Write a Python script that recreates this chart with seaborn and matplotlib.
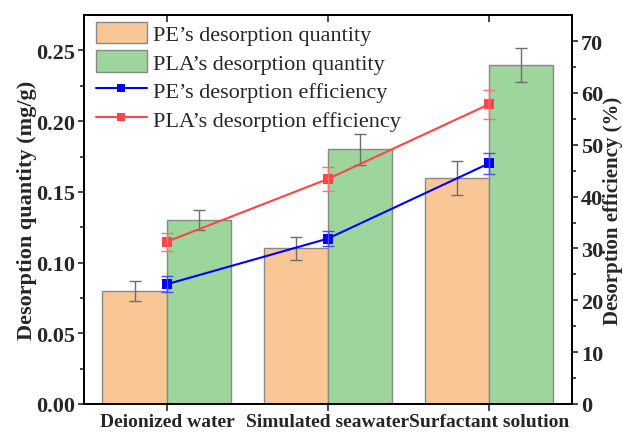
import numpy as np
import pandas as pd
import matplotlib
matplotlib.use("Agg")
import matplotlib.pyplot as plt
import seaborn as sns
from matplotlib.patches import Patch
from matplotlib.lines import Line2D

categories = ["Deionized water", "Simulated seawater", "Surfactant solution"]
pe_qty = [0.08, 0.11, 0.16]
pe_qty_err = [0.007, 0.008, 0.012]
pla_qty = [0.13, 0.18, 0.24]
pla_qty_err = [0.007, 0.011, 0.012]
pe_eff = [23.1, 31.9, 46.4]
pe_eff_err = [1.5, 1.4, 2.1]
pla_eff = [31.3, 43.4, 57.8]
pla_eff_err = [1.7, 2.3, 2.8]
series_names = ["PE\u2019s desorption quantity", "PLA\u2019s desorption quantity",
                "PE\u2019s desorption efficiency", "PLA\u2019s desorption efficiency"]

sns.set_style("ticks")
plt.rcParams['font.family'] = ['Liberation Serif', 'DejaVu Serif']

c_pe = "#F9C796"
c_pla = "#9DD69D"
c_blue = "#0000FF"
c_red = "#FF4545"

df = pd.DataFrame({
    "cat": categories * 2,
    "val": pe_qty + pla_qty,
    "series": [series_names[0]] * 3 + [series_names[1]] * 3,
})

fig = plt.figure(figsize=(6.23, 4.35), dpi=100)
ax = fig.add_axes([0.1348, 0.069, 0.7832, 0.894])
sns.barplot(data=df, x="cat", y="val", hue="series", palette=[c_pe, c_pla],
            edgecolor="#888888", linewidth=1.0, saturation=1, width=0.8,
            errorbar=None, legend=False, ax=ax)

pos = np.arange(len(categories))
ax.errorbar(pos - 0.2, pe_qty, yerr=pe_qty_err, fmt="none", ecolor="#6d6d6d",
            elinewidth=1, capsize=4, capthick=1, zorder=5)
ax.errorbar(pos + 0.2, pla_qty, yerr=pla_qty_err, fmt="none", ecolor="#6d6d6d",
            elinewidth=1, capsize=4, capthick=1, zorder=5)

ax.set_xlim(-0.515, 2.515)
ax.set_ylim(0, 0.275)
ax.set_yticks([0, 0.05, 0.10, 0.15, 0.20, 0.25])
ax.set_yticklabels(["0.00", "0.05", "0.10", "0.15", "0.20", "0.25"])
ax.set_yticks(np.arange(0.025, 0.275, 0.05), minor=True)
ax.set_xlabel("")
ax.set_ylabel("Desorption quantity (mg/g)", fontsize=16, fontweight="bold", labelpad=-1)
ax.tick_params(axis="y", which="major", direction="out", length=4.5, width=1.2,
               labelsize=16, pad=2)
ax.tick_params(axis="y", which="minor", direction="out", length=3, width=1.2)
ax.tick_params(axis="x", which="major", direction="out", length=5, width=1.2,
               labelsize=14, top=False, pad=1.5)
for lbl in ax.get_yticklabels() + ax.get_xticklabels():
    lbl.set_fontweight("bold")
for s in ax.spines.values():
    s.set_linewidth(1.3)
    s.set_color("black")

ax2 = ax.twinx()
sns.lineplot(x=pos, y=pe_eff, color=c_blue, marker="s", markersize=7,
             markeredgewidth=0, linewidth=1.5, ax=ax2, zorder=6)
sns.lineplot(x=pos, y=pla_eff, color=c_red, marker="s", markersize=7,
             markeredgewidth=0, linewidth=1.5, ax=ax2, zorder=6)
ax2.errorbar(pos, pe_eff, yerr=pe_eff_err, fmt="none", ecolor="#4b4bff",
             elinewidth=1, capsize=4, capthick=1, zorder=6)
ax2.errorbar(pos, pla_eff, yerr=pla_eff_err, fmt="none", ecolor="#ff7070",
             elinewidth=1, capsize=4, capthick=1, zorder=6)
ax2.set_ylim(0, 75)
ax2.set_yticks([0, 10, 20, 30, 40, 50, 60, 70])
ax2.set_yticks(np.arange(5, 75, 10), minor=True)
ax2.set_ylabel("Desorption efficiency (%)", fontsize=15, fontweight="bold",
               labelpad=0)
ax2.tick_params(axis="y", which="major", direction="out", length=4.5, width=1.2,
                labelsize=16, pad=2)
ax2.tick_params(axis="y", which="minor", direction="out", length=3, width=1.2)
for lbl in ax2.get_yticklabels():
    lbl.set_fontweight("bold")
for s in ax2.spines.values():
    s.set_linewidth(1.3)
    s.set_color("black")

# top ticks pointing inward
ax_top = ax.secondary_xaxis("top")
ax_top.set_xticks(pos)
ax_top.set_xticklabels([])
ax_top.tick_params(direction="in", length=5, width=1.2)
ax_top.spines["top"].set_linewidth(1.3)

handles = [
    Patch(facecolor=c_pe, edgecolor="#888888", linewidth=1.0),
    Patch(facecolor=c_pla, edgecolor="#888888", linewidth=1.0),
    Line2D([], [], color=c_blue, marker="s", markersize=6, markeredgewidth=0, linewidth=1.5),
    Line2D([], [], color=c_red, marker="s", markersize=6, markeredgewidth=0, linewidth=1.5),
]
ax2.legend(handles, series_names, loc="upper left", frameon=False, fontsize=16,
           handlelength=2.3, handleheight=1.1, handletextpad=0.3,
           labelspacing=0.24, borderpad=0.2, borderaxespad=0.1,
           bbox_to_anchor=(0.01, 1.0))

fig.savefig("out.png", dpi=100)
